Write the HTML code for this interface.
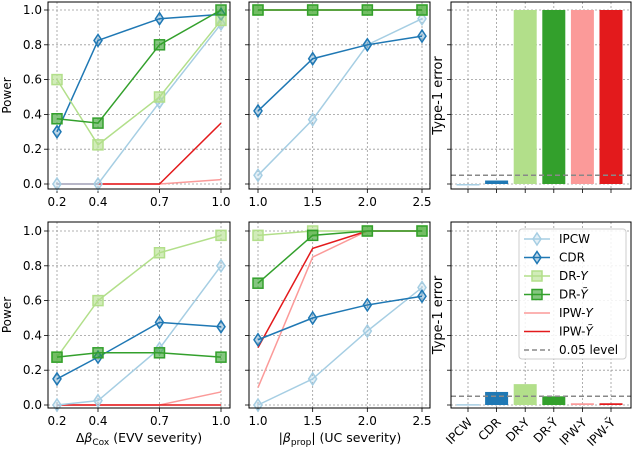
<!DOCTYPE html>
<html><head><meta charset="utf-8">
<style>
body{margin:0;background:#fff;width:632px;height:450px;overflow:hidden}
svg{font-family:"DejaVu Sans","Liberation Sans",sans-serif}
</style></head>
<body>
<svg id="c" width="632" height="450" xmlns="http://www.w3.org/2000/svg"></svg>
<script>
const methods = ["IPCW","CDR","DR-Y","DR-Ỹ","IPW-Y","IPW-Ỹ"];
const colors = ["#a6cee3","#1f78b4","#b2df8a","#33a02c","#fb9a99","#e31a1c"];
const markers = ["d","d","s","s","",""];
const xEvv = [0.2,0.4,0.7,1.0];
const xUc = [1.0,1.5,2.0,2.5];
const yTicks = [0,0.2,0.4,0.6,0.8,1.0];
const topEvv = [[0,0,0.47,0.92],[0.30,0.825,0.95,0.975],[0.60,0.225,0.50,0.94],[0.375,0.35,0.80,1.0],[0,0,0,0.025],[0,0,0,0.35]];
const topUc = [[0.05,0.37,0.80,0.95],[0.42,0.72,0.80,0.85],[1,1,1,1],[1,1,1,1],[1,1,1,1],[1,1,1,1]];
const botEvv = [[0,0.025,0.325,0.80],[0.15,0.275,0.475,0.45],[0.275,0.60,0.875,0.975],[0.275,0.30,0.30,0.275],[0,0,0,0.075],[0,0,0,0]];
const botUc = [[0,0.15,0.425,0.675],[0.375,0.50,0.575,0.625],[0.975,1,1,1],[0.70,0.975,1,1],[0.10,0.85,1,1],[0.33,0.90,1,1]];
const topErr = [0,0.02,1,1,1,1];
const botErr = [0.005,0.075,0.12,0.05,0.01,0.01];
const level = 0.05;

const svg=document.getElementById('c');
const NS="http://www.w3.org/2000/svg";
function el(t,a,p){const e=document.createElementNS(NS,t);for(const k in a)e.setAttribute(k,a[k]);(p||svg).appendChild(e);return e;}

const rows=[{top:2,bot:189,y1:10,y0:184},{top:222,bot:408,y1:231,y0:405}];
const cols=[{l:48,r:230,xs:xEvv,px0:57,px1:221},{l:249,r:430,xs:xUc,px0:258,px1:422},{l:451,r:631}];

function yScale(row){return v=>row.y0+(row.y1-row.y0)*v;}

function panelFrame(row,col,name){
  const g=el('g',{});
  
  
  const ys=yScale(row);
  yTicks.forEach(t=>{
    const y=ys(t);
    const gl=el('line',{x1:col.l,x2:col.r,y1:y,y2:y,stroke:'#999','stroke-width':0.8,'stroke-dasharray':'2,2'},g);
    
    el('line',{x1:col.l-4,x2:col.l,y1:y,y2:y,stroke:'#000','stroke-width':0.8},g);
  });
  return g;
}

function linePanel(row,col,data,name,showY){
  const g=panelFrame(row,col,name);
  const ys=yScale(row);
  const xs=col.xs;
  const xsc=v=>col.px0+(col.px1-col.px0)*(v-xs[0])/(xs[xs.length-1]-xs[0]);
  xs.forEach(t=>{
    const x=xsc(t);
    el('line',{x1:x,x2:x,y1:row.top,y2:row.bot,stroke:'#999','stroke-width':0.8,'stroke-dasharray':'2,2'},g);
    el('line',{x1:x,x2:x,y1:row.bot,y2:row.bot+4,stroke:'#000','stroke-width':0.8},g);
    const tl=el('text',{x:x,y:row.bot+17,'font-size':12,'text-anchor':'middle'},g);
    tl.textContent=t.toFixed(1);
    
  });
  if(showY){
    yTicks.forEach(t=>{
      const tl=el('text',{x:col.l-6,y:ys(t)+4,'font-size':12,'text-anchor':'end'},g);
      tl.textContent=t.toFixed(1);
      
    });
  }
  const order=[4,5,0,1,2,3];
  order.forEach(i=>{
    const pts=data[i].map((v,j)=>[xsc(xs[j]),ys(v)]);
    const pl=el('polyline',{points:pts.map(p=>p.join(',')).join(' '),fill:'none',stroke:colors[i],'stroke-width':1.5},g);
    
    
    pts.forEach(p=>{
      let m;
      if(markers[i]==='d'){
        m=el('path',{d:`M${p[0]},${p[1]-6}L${p[0]+4},${p[1]}L${p[0]},${p[1]+6}L${p[0]-4},${p[1]}Z`,fill:colors[i],'fill-opacity':0.3,stroke:colors[i],'stroke-width':1.5},g);
      }else if(markers[i]==='s'){
        m=el('rect',{x:p[0]-5,y:p[1]-5,width:10,height:10,fill:colors[i],'fill-opacity':0.6,stroke:colors[i],'stroke-width':1.5},g);
      }
      if(m){}
    });
  });
  el('rect',{x:col.l,y:row.top,width:col.r-col.l,height:row.bot-row.top,fill:'none',stroke:'#000','stroke-width':1},g);
}

function barPanel(row,col,data,name,showX){
  const g=panelFrame(row,col,name);
  const ys=yScale(row);
  const xsc=i=>468+i*28.6;
  methods.forEach((m,i)=>{
    const x=xsc(i);
    el('line',{x1:x,x2:x,y1:row.top,y2:row.bot,stroke:'#999','stroke-width':0.8,'stroke-dasharray':'2,2'},g);
    el('line',{x1:x,x2:x,y1:row.bot,y2:row.bot+4,stroke:'#000','stroke-width':0.8},g);
    const v=data[i];
    const b=el('rect',{x:x-11.5,y:ys(v),width:23,height:Math.max(ys(0)-ys(v),1.5),fill:colors[i]},g);
    
    
    if(showX){
      const tl=el('text',{x:x+5,y:row.bot+15,'font-size':12,'text-anchor':'end',transform:`rotate(-45 ${x+5} ${row.bot+15})`},g);
      tl.textContent=m;
      
    }
  });
  const ly=ys(level);
  const lv=el('line',{x1:col.l,x2:col.r,y1:ly,y2:ly,stroke:'#888','stroke-width':1.5,'stroke-dasharray':'5,3'},g);
  
  el('rect',{x:col.l,y:row.top,width:col.r-col.l,height:row.bot-row.top,fill:'none',stroke:'#000','stroke-width':1},g);
  const yt=el('text',{x:0,y:0,'font-size':13,'text-anchor':'middle',transform:`translate(${col.l-9},${(row.top+row.bot)/2}) rotate(-90)`},g);
  yt.textContent='Type-1 error';
  
}

linePanel(rows[0],cols[0],topEvv,'panel-top-evv',true);
linePanel(rows[0],cols[1],topUc,'panel-top-uc',false);
barPanel(rows[0],cols[2],topErr,'panel-top-error',false);
linePanel(rows[1],cols[0],botEvv,'panel-bottom-evv',true);
linePanel(rows[1],cols[1],botUc,'panel-bottom-uc',false);
barPanel(rows[1],cols[2],botErr,'panel-bottom-error',true);

[rows[0],rows[1]].forEach(r=>{
  const t=el('text',{x:0,y:0,'font-size':12,'text-anchor':'middle',transform:`translate(11,${(r.top+r.bot)/2}) rotate(-90)`});
  t.textContent='Power';
  
});
const xt1=el('text',{x:139,y:442,'font-size':12.5,'text-anchor':'middle'});
xt1.innerHTML='Δ<tspan font-style="italic">β</tspan><tspan font-size="9" dy="3">Cox</tspan><tspan dy="-3"> (EVV severity)</tspan>';

const xt2=el('text',{x:340,y:442,'font-size':12.5,'text-anchor':'middle'});
xt2.innerHTML='|<tspan font-style="italic">β</tspan><tspan font-size="9" dy="3">prop</tspan><tspan dy="-3">| (UC severity)</tspan>';


const lg=el('g',{});


el('rect',{x:519,y:229,width:107,height:130,rx:3,fill:'#fff','fill-opacity':0.85,stroke:'#ccc'},lg);
const labels=["IPCW","CDR","DR-<tspan font-style='italic'>Y</tspan>","DR-<tspan font-style='italic'>Ỹ</tspan>","IPW-<tspan font-style='italic'>Y</tspan>","IPW-<tspan font-style='italic'>Ỹ</tspan>"];
labels.forEach((lab,i)=>{
  const y=239+i*18.5;
  const e=el('g',{},lg);
  
  
  el('line',{x1:524,x2:550,y1:y,y2:y,stroke:colors[i],'stroke-width':1.5},e);
  if(markers[i]==='d')el('path',{d:`M537,${y-6}L541,${y}L537,${y+6}L533,${y}Z`,fill:colors[i],'fill-opacity':0.3,stroke:colors[i],'stroke-width':1.5},e);
  if(markers[i]==='s')el('rect',{x:532,y:y-5,width:10,height:10,fill:colors[i],'fill-opacity':0.6,stroke:colors[i],'stroke-width':1.5},e);
  const t=el('text',{x:559,y:y+4,'font-size':12},e);t.innerHTML=lab;
});
const ly=239+6*18.5;
const le=el('g',{},lg);


el('line',{x1:524,x2:550,y1:ly,y2:ly,stroke:'#888','stroke-width':1.5,'stroke-dasharray':'5,3'},le);
const lt=el('text',{x:559,y:ly+4,'font-size':12},le);lt.textContent='0.05 level';
</script>
</body></html>
